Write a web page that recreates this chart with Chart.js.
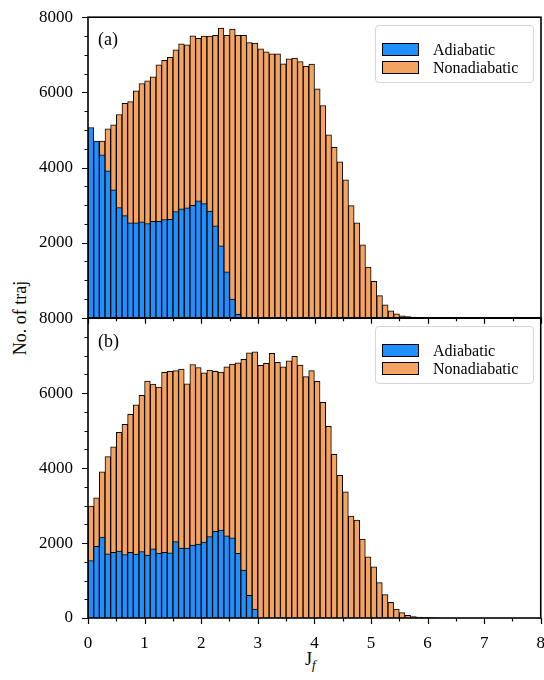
<!DOCTYPE html>
<html>
<head>
<meta charset="utf-8">
<script src="https://cdn.jsdelivr.net/npm/chart.js@4.4.0/dist/chart.umd.min.js"></script>
<style>
  html, body { margin: 0; background: #fff; overflow: hidden; }
  body { font-family: "Liberation Serif", "DejaVu Serif", serif; }
  #wrap { position: relative; width: 700px; height: 800px; }
  canvas { position: absolute; left: 0; }
  #cA { top: 0; z-index: 2; }
  #cB { top: 308px; z-index: 1; }
  .legend { position: absolute; left: 375px; width: 157px; height: 56px; border: 1px solid #d6d6d6;
            border-radius: 4px; background: rgba(255,255,255,0.8); z-index: 3; font-size: 16px; color: #000; }
  .legend .sw { position: absolute; left: 6px; width: 35px; height: 11px; border: 1px solid #000; }
  .legend .tx { position: absolute; left: 57px; line-height: 16px; }
  .panel { position: absolute; left: 98px; font-size: 18px; line-height: 18px; z-index: 3; }
  #ylab { position: absolute; left: 20px; top: 318px; font-size: 18px; white-space: nowrap;
          transform: translate(-50%, -50%) rotate(-90deg); }
  #xlab { position: absolute; left: 305px; top: 650px; font-size: 18px; line-height: 18px; }
  #xlab sub { font-style: italic; font-size: 13px; vertical-align: -4px; }
</style>
</head>
<body>
<div id="wrap">
  <canvas id="cB" width="544" height="372"></canvas>
  <canvas id="cA" width="544" height="330"></canvas>

  <div class="panel" style="top:30px">(a)</div>
  <div class="panel" style="top:332px">(b)</div>

  <div class="legend" style="top:25px">
    <div class="sw" style="top:17px;background:#1E90FF"></div><div class="tx" style="top:16px">Adiabatic</div>
    <div class="sw" style="top:35px;background:#F4A460"></div><div class="tx" style="top:34px">Nonadiabatic</div>
  </div>
  <div class="legend" style="top:326px">
    <div class="sw" style="top:17px;background:#1E90FF"></div><div class="tx" style="top:16px">Adiabatic</div>
    <div class="sw" style="top:35px;background:#F4A460"></div><div class="tx" style="top:34px">Nonadiabatic</div>
  </div>

  <div id="ylab">No. of traj</div>
  <div id="xlab">J<sub>f</sub></div>
</div>

<script>
// histogram bins of width 0.1 starting at J_f = 0
const binWidth = 0.1;

// panel (a)
const adiabaticA = [5065, 4700, 4340, 3910, 3405, 2935, 2720, 2530, 2530, 2555,
                    2510, 2565, 2570, 2615, 2620, 2830, 2900, 2925, 2990, 3115,
                    3040, 2840, 2450, 1915, 1225, 495, 90];
const nonadiabaticA = [4000, 4500, 4700, 5030, 5135, 5410, 5705, 5755, 6040, 6235,
                       6305, 6415, 6730, 6850, 6935, 7130, 7290, 7265, 7505, 7440,
                       7495, 7495, 7520, 7710, 7520, 7685, 7520, 7515, 7325, 7310,
                       7160, 7080, 7025, 7025, 6760, 6890, 6910, 6820, 6690, 6750,
                       6095, 5650, 4870, 4540, 4150, 3670, 2985, 2530, 1942, 1350,
                       970, 590, 346, 185, 106, 53, 30, 18, 9, 5];

// panel (b)
const adiabaticB = [1535, 1910, 2160, 1715, 1750, 1785, 1695, 1750, 1705, 1775,
                    1680, 1845, 1730, 1750, 1740, 2040, 1865, 1865, 1945, 1970,
                    2025, 2175, 2310, 2345, 2195, 2140, 1725, 1280, 605, 240];
const nonadiabaticB = [2985, 3205, 3900, 4305, 4565, 4955, 5170, 5435, 5690, 5940,
                       6325, 6245, 6165, 6555, 6580, 6600, 6640, 6250, 6765, 6685,
                       6545, 6615, 6580, 6565, 6705, 6775, 6810, 6900, 7075, 7105,
                       6740, 6795, 7060, 6820, 6705, 6865, 6980, 6750, 6440, 6600,
                       6315, 5755, 5115, 4370, 3810, 3365, 2720, 2615, 2105, 1635,
                       1365, 945, 622, 417, 235, 142, 71, 36, 27, 18, 9, 5];

const xTicks = [0, 1, 2, 3, 4, 5, 6, 7, 8];
const yTicks = [0, 2000, 4000, 6000, 8000];

const toPoints = arr => arr.map((v, i) => ({ x: (i + 0.5) * binWidth, y: v }));
const tickFont = { family: "'Liberation Serif', serif", size: 17 };

// frame + major/minor ticks (matplotlib look)
const framePlugin = {
  id: 'frame',
  afterDraw(chart) {
    const { ctx, chartArea: a, scales: { x, y } } = chart;
    ctx.save();
    ctx.strokeStyle = '#000';
    ctx.lineWidth = 1.2;
    ctx.beginPath();
    for (let v = 0; v <= 8; v += 0.5) {
      const px = Math.round(x.getPixelForValue(v)) + 0.5;
      const len = Number.isInteger(v) ? 6 : 3.5;
      ctx.moveTo(px, a.bottom); ctx.lineTo(px, a.bottom + len);
    }
    for (let v = 0; v <= 8000; v += 500) {
      const py = Math.round(y.getPixelForValue(v)) + 0.5;
      const len = v % 2000 === 0 ? 6 : 3.5;
      ctx.moveTo(a.left - len, py); ctx.lineTo(a.left, py);
    }
    ctx.stroke();
    ctx.lineWidth = 1.6;
    ctx.strokeRect(a.left, a.top, a.right - a.left, a.bottom - a.top);
    ctx.restore();
  }
};

function makeChart(id, adi, non, opts) {
  return new Chart(document.getElementById(id), {
    type: 'bar',
    data: {
      datasets: [
        { label: 'Adiabatic', data: toPoints(adi), backgroundColor: '#1E90FF',
          borderColor: '#000', borderWidth: 1, grouped: false,
          barPercentage: 1, categoryPercentage: 1 },
        { label: 'Nonadiabatic', data: toPoints(non), backgroundColor: '#F4A460',
          borderColor: '#000', borderWidth: 1, grouped: false,
          barPercentage: 1, categoryPercentage: 1 }
      ]
    },
    options: {
      responsive: false,
      maintainAspectRatio: false,
      animation: false,
      devicePixelRatio: 1,
      layout: { padding: { top: opts.padTop, right: 3, left: 0, bottom: 0 } },
      plugins: { legend: { display: false }, tooltip: { enabled: false } },
      scales: {
        x: {
          type: 'linear', min: 0, max: 8, offset: false,
          grid: { display: false, drawTicks: false },
          border: { display: false },
          afterBuildTicks: s => { s.ticks = xTicks.map(v => ({ value: v })); },
          ticks: { display: opts.xLabels, font: tickFont, color: '#000', padding: 15,
                   maxRotation: 0, autoSkip: false, callback: v => String(v) },
          afterFit: s => { s.height = opts.xHeight; }
        },
        y: {
          min: 0, max: 8000,
          grid: { display: false, drawTicks: false },
          border: { display: false },
          afterBuildTicks: s => { s.ticks = yTicks.map(v => ({ value: v })); },
          ticks: { font: tickFont, color: '#000', padding: 15,
                   callback: v => (v === 0 && !opts.zeroLabel) ? '' : String(v) },
          afterFit: s => { s.width = 88; }
        }
      }
    },
    plugins: [framePlugin]
  });
}

// place a chart so that its plot area lands on the wanted page box
function placeChart(chart, box) {
  for (let k = 0; k < 4; k++) {
    const a = chart.chartArea;
    const w = chart.width, h = chart.height;
    const padL = a.left, padT = a.top, padR = w - a.right, padB = h - a.bottom;
    const newW = Math.round(padL + (box.right - box.left) + padR);
    const newH = Math.round(padT + (box.bottom - box.top) + padB);
    if (newW !== w || newH !== h) {
      chart.resize(newW, newH);
      chart.update('none');
    }
    chart.canvas.style.left = (box.left - chart.chartArea.left) + 'px';
    chart.canvas.style.top = (box.top - chart.chartArea.top) + 'px';
  }
}

const chartA = makeChart('cA', adiabaticA, nonadiabaticA, { padTop: 17, xHeight: 12, xLabels: false, zeroLabel: false });
const chartB = makeChart('cB', adiabaticB, nonadiabaticB, { padTop: 10, xHeight: 62, xLabels: true, zeroLabel: true });
placeChart(chartA, { left: 88, right: 541, top: 17, bottom: 318 });
placeChart(chartB, { left: 88, right: 541, top: 318, bottom: 618 });
</script>
</body>
</html>
